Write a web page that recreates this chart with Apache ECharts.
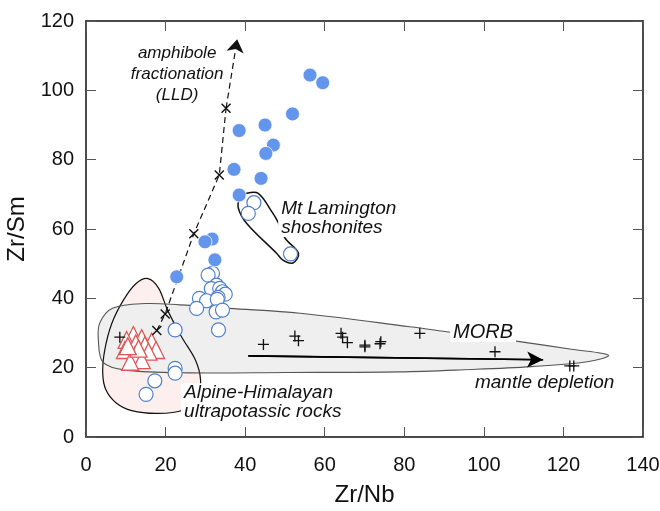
<!DOCTYPE html>
<html><head><meta charset="utf-8">
<script src="https://cdn.jsdelivr.net/npm/echarts@6/dist/echarts.min.js"></script>
<style>html,body{margin:0;padding:0;background:#fff}#c{width:660px;height:511px}</style>
</head><body><div id="c"></div>
<script>
// ---- tick labels ----
const xTicks = [0, 20, 40, 60, 80, 100, 120, 140];
const yTicks = [0, 20, 40, 60, 80, 100, 120];

// ---- data (Zr/Nb, Zr/Sm) ----
const filledCircles = [
  [56.3,104.4],[59.5,102.2],[51.9,93.2],[45.0,90.0],[38.5,88.4],[47.1,84.2],[45.2,81.8],
  [37.2,77.2],[44.0,74.6],[38.5,69.8],[31.7,57.1],[29.9,56.3],[32.4,51.1],[22.8,46.2]
];
const openCircles = [
  [42.2,67.6],[40.8,64.5],[51.4,52.8],
  [31.8,47.2],[30.7,46.7],[32.8,43.8],[31.5,42.8],[33.6,42.9],[34.3,41.9],[35.0,41.2],
  [33.2,40.3],[28.5,40.0],[30.3,39.3],[33.0,39.7],[27.8,37.1],[32.7,36.1],[34.3,36.6],[33.3,30.9],
  [22.4,30.9],[22.4,19.8],[22.4,18.4],[17.3,16.2],[15.1,12.3]
];
const triangles = [
  [11.9,29.4],[14.0,28.5],[10.2,28.0],[12.5,27.0],[16.5,27.5],[14.8,26.5],[17.6,25.1],
  [9.8,25.1],[15.7,24.6],[12.3,23.6],[14.0,22.2],[11.1,21.7],[13.2,25.5],[10.5,26.2]
];
const morbPlus = [
  [8.5,28.8],[44.6,26.7],[52.5,29.1],[53.4,27.8],[64.1,29.9],[64.5,28.8],[65.7,27.2],
  [70.1,26.0],[70.1,26.5],[74.1,27.5],[73.9,26.9],[83.9,29.9],[102.8,24.6],[121.6,20.5],[122.6,20.5]
];
const lldCrosses = [[17.8,30.7],[19.9,35.5],[27.1,58.6],[33.5,75.6],[35.2,94.8]];
const lldArrowTip = [38.0,114.7];
const depletionArrow = [[40.8,23.4],[114.9,22.3]];

// ---- envelopes (data space) ----
const morbEnvelope = [
  [3.5,33],[6.8,37.2],[15,38.5],[23.6,38.1],[36,37.1],[53.8,35.7],[81.4,31.8],[91.5,30.2],
  [109,27.5],[122,25.3],[131.3,23.6],[126,21.7],[112,20.3],[95,19.4],[79,18.8],[50,18.6],
  [26,18.5],[10,19.3],[4.3,21.5],[3.1,28.0]
];
const alpineEnvelope = [
  [15.6,45.7],[18.2,43],[20.5,36.6],[24.0,28.9],[27.5,22.2],[28.8,16.4],[28.0,11.0],[24.5,7.8],
  [18.0,6.8],[11.5,7.6],[7.6,9.8],[5.0,13.6],[4.2,18.5],[4.7,25],[6.5,32.8],[9.4,39.5],[12.6,44.3]
];
const lamingtonEnvelope = [
  [40.4,70.3],[43.3,70.3],[46.7,65.0],[48.3,61.9],[50.0,57.4],[53.4,53.0],[52.0,50.2],
  [49.5,51.0],[47.9,53.0],[40.4,61.6],[38.3,66.0],[38.7,68.9]
];

// ---- annotations (text, anchor in data units) ----
const notes = [
  {text:'amphibole\nfractionation\n(LLD)', at:[22.9,104.7], align:'center', size:17, lh:21, bg:null},
  {text:'Mt Lamington\nshoshonites', at:[48.3,63.2], align:'left', size:19, lh:19, bg:'#fff'},
  {text:'Alpine-Himalayan\nultrapotassic rocks', at:[23.9,10.0], align:'left', size:19, lh:19, bg:'#fff'},
  {text:'MORB', at:[99.8,30.3], align:'center', size:20, lh:20, bg:'#fff'},
  {text:'mantle depletion', at:[97.0,15.6], align:'left', size:19, lh:19, bg:null}
];

const FONT = 'Liberation Sans, Arial, sans-serif';
const plusPath = 'path://M4.4,0H5.6V10H4.4Z M0,4.4H10V5.6H0Z';
const crossPath = 'path://M0,1L1,0L10,9L9,10Z M9,0L10,1L1,10L0,9Z';

function axisCommon(ticks, showLabel){
  return {
    type:'value', min:ticks[0], max:ticks[ticks.length-1], interval:ticks[1]-ticks[0],
    axisLine:{show:true, onZero:false, lineStyle:{color:'#111', width:1.5}},
    axisTick:{show:true, inside:true, length:10, lineStyle:{color:'#555', width:1}},
    axisLabel:{show:showLabel, fontSize:20, color:'#111', fontFamily:FONT},
    splitLine:{show:false}
  };
}

const chart = echarts.init(document.getElementById('c'), null, {renderer:'canvas'});
const xb = axisCommon(xTicks, true);
xb.position='bottom'; xb.name='Zr/Nb'; xb.nameLocation='middle'; xb.nameGap=46;
xb.nameTextStyle={fontSize:24, color:'#111', fontFamily:FONT}; xb.axisLabel.margin=18;
const xt = axisCommon(xTicks, false); xt.position='top';
const yl = axisCommon(yTicks, true);
yl.position='left'; yl.name='Zr/Sm'; yl.nameLocation='middle'; yl.nameGap=46;
yl.nameTextStyle={fontSize:24, color:'#111', fontFamily:FONT}; yl.axisLabel.margin=12;
const yr = axisCommon(yTicks, false); yr.position='right';

chart.setOption({
  animation:false,
  backgroundColor:'#fff',
  grid:{left:86, right:17, top:21, bottom:74, containLabel:false, outerBoundsMode:'none'},
  xAxis:[xb, xt],
  yAxis:[yl, yr],
  series:[
    {
      type:'custom', z:1, silent:true, clip:false, data:[[0,0]],
      renderItem:function(params, api){
        const P = a => a.map(p => api.coord(p));
        return {type:'group', children:[
          {type:'polygon', shape:{points:P(alpineEnvelope), smooth:0.35}, style:{fill:'#fcefed', stroke:null}},
          {type:'polygon', shape:{points:P(morbEnvelope), smooth:0.35}, style:{fill:'#efefef', stroke:null}},
          {type:'polygon', shape:{points:P(alpineEnvelope), smooth:0.35}, style:{fill:null, stroke:'#111', lineWidth:1.2}},
          {type:'polygon', shape:{points:P(morbEnvelope), smooth:0.35}, style:{fill:null, stroke:'#555', lineWidth:1.1}},
          {type:'polygon', shape:{points:P(lamingtonEnvelope), smooth:0.35}, style:{fill:null, stroke:'#111', lineWidth:1.5}}
        ]};
      }
    },
    {
      type:'custom', z:2, silent:true, clip:false, data:[[0,0]],
      renderItem:function(params, api){
        return {type:'group', children: notes.map(n => {
          const c = api.coord(n.at);
          return {type:'text', x:c[0], y:c[1], style:{
            text:n.text, fontSize:n.size, fontStyle:'italic', fontFamily:FONT, fill:'#111',
            align:n.align, verticalAlign:'middle', lineHeight:n.lh,
            backgroundColor:n.bg || 'transparent', padding:[0,3]
          }};
        })};
      }
    },
    {
      type:'line', z:3, data:lldCrosses, showSymbol:false, symbol:'none',
      lineStyle:{color:'#111', width:1.2, type:[6,4]}, silent:true,
      markLine:{silent:true, symbol:['none','arrow'], symbolSize:13, label:{show:false},
        lineStyle:{color:'#111', width:1.2, type:[6,4]},
        data:[[{coord:lldCrosses[lldCrosses.length-1]},{coord:lldArrowTip}]]}
    },
    {
      type:'line', z:3, data:depletionArrow, showSymbol:false, symbol:'none',
      lineStyle:{color:'#000', width:1.6, type:'solid'}, silent:true,
      markLine:{silent:true, symbol:['none','arrow'], symbolSize:[12,16], label:{show:false},
        lineStyle:{color:'#000', width:1.6, type:'solid'},
        data:[[{coord:depletionArrow[0]},{coord:depletionArrow[1]}]]}
    },
    {type:'scatter', z:4, data:triangles, symbol:'triangle', symbolSize:[17,17],
      itemStyle:{color:'#fff', borderColor:'#e05555', borderWidth:1.3, opacity:1}},
    {type:'scatter', z:4, data:morbPlus, symbol:plusPath, symbolSize:11,
      itemStyle:{color:'#111', opacity:1}},
    {type:'scatter', z:4, data:lldCrosses, symbol:crossPath, symbolSize:10,
      itemStyle:{color:'#111', opacity:1}},
    {type:'scatter', z:5, data:openCircles, symbol:'circle', symbolSize:14,
      itemStyle:{color:'#fff', borderColor:'#4f80cc', borderWidth:1.2, opacity:1}},
    {type:'scatter', z:5, data:filledCircles, symbol:'circle', symbolSize:14,
      itemStyle:{color:'#6495ed', borderColor:'#fff', borderWidth:0.8, opacity:1}}
  ]
});
</script>
</body></html>
